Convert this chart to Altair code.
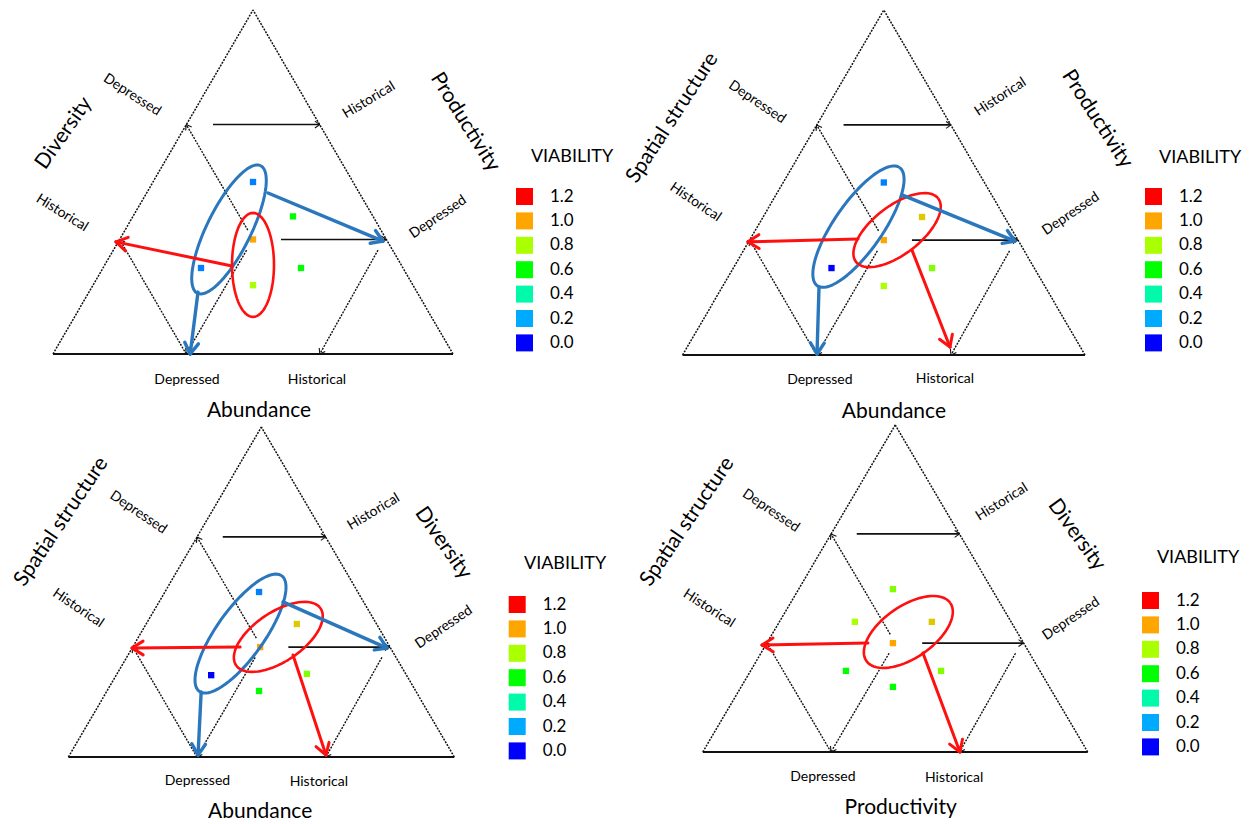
import math
import altair as alt
import pandas as pd

# ---------------- data ----------------
VIAB_LEVELS = [1.2, 1.0, 0.8, 0.6, 0.4, 0.2, 0.0]
VIAB_COLORS = ["#FF0000", "#FFA500", "#AAFF00", "#00FF00", "#00FAAA", "#00AAFF", "#0000FF"]
LEGEND_TITLE = "VIABILITY"

AXIS_TITLES = {
    1: ("Diversity", "Productivity", "Abundance"),
    2: ("Spatial structure", "Productivity", "Abundance"),
    3: ("Spatial structure", "Diversity", "Abundance"),
    4: ("Spatial structure", "Diversity", "Productivity"),
}
LEVEL_NAMES = ["Depressed", "Historical"]

# scenario points (diagram coords: x 0..1 along base, y 0..1 up to apex)
PT_PANEL = [1] * 6 + [2] * 6 + [3] * 6 + [4] * 7
PT_X = [0.50, 0.60, 0.50, 0.37, 0.62, 0.50,
        0.50, 0.595, 0.50, 0.37, 0.62, 0.50,
        0.494, 0.592, 0.497, 0.37, 0.618, 0.494,
        0.494, 0.395, 0.595, 0.494, 0.372, 0.619, 0.494]
PT_Y = [0.50, 0.40, 0.333, 0.25, 0.25, 0.20,
        0.50, 0.40, 0.333, 0.252, 0.252, 0.20,
        0.50, 0.403, 0.333, 0.248, 0.252, 0.20,
        0.498, 0.398, 0.398, 0.333, 0.248, 0.248, 0.199]
PT_VIAB = [0.15, 0.6, 1.0, 0.15, 0.6, 0.8,
           0.15, 0.92, 1.0, 0.0, 0.75, 0.8,
           0.15, 0.92, 1.0, 0.0, 0.75, 0.6,
           0.75, 0.8, 0.92, 1.0, 0.6, 0.75, 0.6]

# ellipses (centre, semi-axes as fraction of triangle side, tilt in degrees)
ELL_PANEL = [1, 1, 2, 2, 3, 3, 4]
ELL_GROUP = ["blue", "red", "blue", "red", "blue", "red", "red"]
ELL_CX = [0.44, 0.50, 0.437, 0.533, 0.446, 0.544, 0.534]
ELL_CY = [0.362, 0.259, 0.372, 0.362, 0.374, 0.364, 0.367]
ELL_A = [0.178, 0.130, 0.179, 0.129, 0.184, 0.132, 0.1325]
ELL_B = [0.055, 0.0525, 0.060, 0.060, 0.062, 0.064, 0.0675]
ELL_ANGLE = [63.6, 90, 55.2, 37.6, 54.6, 33.9, 34.6]

# thick arrows (start -> tip)
ARR_PANEL = [1, 1, 1, 2, 2, 2, 2, 3, 3, 3, 3, 4, 4]
ARR_GROUP = ["blue", "blue", "red", "blue", "blue", "red", "red",
             "blue", "blue", "red", "red", "red", "red"]
ARR_X1 = [0.5375, 0.3625, 0.4475, 0.545, 0.339, 0.436, 0.570, 0.556, 0.344, 0.445, 0.582, 0.429, 0.572]
ARR_Y1 = [0.468, 0.180, 0.256, 0.464, 0.197, 0.336, 0.304, 0.470, 0.197, 0.333, 0.309, 0.333, 0.303]
ARR_X2 = [0.825, 0.343, 0.1575, 0.826, 0.334, 0.1625, 0.6645, 0.826, 0.336, 0.165, 0.6675, 0.154, 0.668]
ARR_Y2 = [0.328, 0.0, 0.326, 0.330, 0.003, 0.328, 0.023, 0.330, 0.006, 0.330, 0.006, 0.327, 0.0]

# reference (level) arrows inside every triangle (start -> tip on the side)
REF_X1 = [0.40, 0.57, 0.487, 0.333, 0.484, 0.8125]
REF_Y1 = [0.667, 0.333, 0.36, 0.0, 0.302, 0.302]
REF_X2 = [0.667, 0.833, 0.333, 0.1667, 0.333, 0.667]
REF_Y2 = [0.667, 0.333, 0.667, 0.333, 0.0, 0.0]
REF_SOLID = [True, True, False, False, False, False]

# ---------------- layout ----------------
PANEL_W = [612, 622, 612, 622]
PANEL_H = [412, 412, 396, 396]
TRI_LEFT = [45, 62.6, 60.4, 82.8]
TRI_BASE = [346, 347, 337, 332]
TRI_W = [400, 402.4, 385.9, 384.9]
TRI_H = [344, 345, 330, 327]
LEG_X = [508, 525, 500.7, 522]
LEG_Y = [180, 180, 176, 172]
LEG_TITLE_POS = [(1.2975, 0.5727), (1.286, 0.571), (1.287, 0.585), (1.2866, 0.593)]

# label slots: (x, y, angle) for left title, left Depressed, left Historical,
# right Historical, right title, right Depressed, base Depressed, base Historical, base title
LBL_POS = {
    1: [(0.0275, 0.642, -55), (0.1975, 0.753, 33), (0.0225, 0.41, 32), (0.79, 0.738, -31),
        (1.03, 0.674, 58), (0.9625, 0.398, -34), (0.335, -0.0756, 0), (0.66, -0.0756, 0), (0.515, -0.166, 0)],
    2: [(-0.025, 0.687, -57), (0.185, 0.733, 34), (0.032, 0.443, 34), (0.79, 0.748, -33),
        (1.03, 0.684, 57), (0.965, 0.409, -34), (0.341, -0.072, 0), (0.652, -0.07, 0), (0.525, -0.165, 0)],
    3: [(-0.018, 0.713, -56), (0.181, 0.741, 34), (0.025, 0.451, 34), (0.791, 0.743, -31),
        (0.971, 0.648, 55), (0.973, 0.393, -34), (0.3345, -0.073, 0), (0.649, -0.075, 0), (0.497, -0.166, 0)],
    4: [(-0.04, 0.704, -56), (0.177, 0.738, 34), (0.016, 0.439, 33), (0.777, 0.764, -32),
        (0.971, 0.664, 54), (0.957, 0.407, -34), (0.312, -0.077, 0), (0.653, -0.08, 0), (0.514, -0.172, 0)],
}

GROUP_COLOR = {"blue": "#2A77BD", "red": "#FF1010"}
GROUP_WIDTH = {"blue": 3.0, "red": 2.6}
LINE_COLOR = "#111111"
FONT = "Lato"


def wing_points(i, x1, y1, x2, y2, length_px, ang_deg):
    W, H = TRI_W[i], TRI_H[i]
    dx, dy = (x2 - x1) * W, (y2 - y1) * H
    n = math.hypot(dx, dy)
    ux, uy = dx / n, dy / n
    pts = []
    for s in (1, -1):
        a = math.radians(ang_deg) * s
        rx = ux * math.cos(a) - uy * math.sin(a)
        ry = ux * math.sin(a) + uy * math.cos(a)
        pts.append((x2 - rx * length_px / W, y2 - ry * length_px / H))
    return pts


def panel(p):
    i = p - 1
    W, H = TRI_W[i], TRI_H[i]
    left, base = TRI_LEFT[i], TRI_BASE[i]
    pw, ph = PANEL_W[i], PANEL_H[i]
    xs = alt.Scale(domain=[-left / W, (pw - left) / W], nice=False, zero=False)
    ys = alt.Scale(domain=[(base - ph) / H, base / H], nice=False, zero=False)
    X = lambda f: alt.X(f, scale=xs, axis=None)
    Y = lambda f: alt.Y(f, scale=ys, axis=None)

    solid, dashed, thick = [], [], []
    # triangle frame
    solid.append(dict(x=0, y=0, x2=1, y2=0, sw=2.2))
    dashed.append(dict(x=0, y=0, x2=0.5, y2=1, sw=1.5))
    dashed.append(dict(x=1, y=0, x2=0.5, y2=1, sw=1.5))
    # level reference arrows
    for x1, y1, x2, y2, so in zip(REF_X1, REF_Y1, REF_X2, REF_Y2, REF_SOLID):
        (solid if so else dashed).append(dict(x=x1, y=y1, x2=x2, y2=y2, sw=1.6 if so else 1.4))
        for wx, wy in wing_points(i, x1, y1, x2, y2, 6, 35):
            solid.append(dict(x=x2, y=y2, x2=wx, y2=wy, sw=1.1))
    # thick coloured arrows
    for pp, g, x1, y1, x2, y2 in zip(ARR_PANEL, ARR_GROUP, ARR_X1, ARR_Y1, ARR_X2, ARR_Y2):
        if pp != p:
            continue
        c, w = GROUP_COLOR[g], GROUP_WIDTH[g] + 0.4
        thick.append(dict(x=x1, y=y1, x2=x2, y2=y2, col=c, sw=w))
        for wx, wy in wing_points(i, x1, y1, x2, y2, 13, 32):
            thick.append(dict(x=x2, y=y2, x2=wx, y2=wy, col=c, sw=w))

    # ellipses
    ell = []
    for k, (pp, g, cx, cy, a, b, th) in enumerate(zip(ELL_PANEL, ELL_GROUP, ELL_CX, ELL_CY,
                                                      ELL_A, ELL_B, ELL_ANGLE)):
        if pp != p:
            continue
        t0 = math.radians(th)
        for j in range(73):
            t = math.radians(j * 5)
            dxp = a * W * math.cos(t) * math.cos(t0) - b * W * math.sin(t) * math.sin(t0)
            dyp = a * W * math.cos(t) * math.sin(t0) + b * W * math.sin(t) * math.cos(t0)
            ell.append(dict(id=k, k=j, x=cx + dxp / W, y=cy + dyp / H,
                            col=GROUP_COLOR[g], sw=GROUP_WIDTH[g]))

    pts = pd.DataFrame([dict(x=x, y=y, v=v) for pp, x, y, v in zip(PT_PANEL, PT_X, PT_Y, PT_VIAB) if pp == p])

    # labels
    lt, rt, bt = AXIS_TITLES[p]
    texts = [lt, LEVEL_NAMES[0], LEVEL_NAMES[1], LEVEL_NAMES[1], rt, LEVEL_NAMES[0],
             LEVEL_NAMES[0], LEVEL_NAMES[1], bt]
    big = [True, False, False, False, True, False, False, False, True]
    rows = [dict(t=t, x=pos[0], y=pos[1], ang=pos[2] % 360, fs=21 if bg else 14)
            for t, pos, bg in zip(texts, LBL_POS[p], big)]
    rows.append(dict(t=LEGEND_TITLE, x=LEG_TITLE_POS[i][0], y=LEG_TITLE_POS[i][1], ang=0, fs=18))
    lbl = pd.DataFrame(rows)

    base_enc = dict(x=X("x:Q"), y=Y("y:Q"), x2=alt.X2("x2:Q"), y2=alt.Y2("y2:Q"),
                    strokeWidth=alt.StrokeWidth("sw:Q", scale=None))

    l_solid = alt.Chart(pd.DataFrame(solid)).mark_rule(color=LINE_COLOR).encode(**base_enc)
    l_dash = alt.Chart(pd.DataFrame(dashed)).mark_rule(color=LINE_COLOR, strokeDash=[2, 1.2]).encode(**base_enc)
    l_pts = alt.Chart(pts).mark_square(size=40, opacity=1).encode(
        x=X("x:Q"), y=Y("y:Q"),
        color=alt.Color(
            "v:Q",
            scale=alt.Scale(domain=VIAB_LEVELS[::-1], range=VIAB_COLORS[::-1], interpolate="rgb"),
            legend=alt.Legend(
                type="symbol", values=VIAB_LEVELS, format=".1f", title=None,
                orient="none", legendX=LEG_X[i], legendY=LEG_Y[i], direction="vertical",
                symbolType="square", symbolSize=289, symbolStrokeWidth=0, symbolOpacity=1,
                labelFont=FONT, labelFontSize=17, labelColor="black", labelOffset=17,
                rowPadding=6.4,
            ),
        ),
    )
    l_ell = alt.Chart(pd.DataFrame(ell)).mark_line(strokeJoin="round").encode(
        x=X("x:Q"), y=Y("y:Q"), order="k:Q", detail="id:N",
        stroke=alt.Stroke("col:N", scale=None), strokeWidth=alt.StrokeWidth("sw:Q", scale=None))
    l_arr = alt.Chart(pd.DataFrame(thick)).mark_rule(strokeCap="round").encode(
        stroke=alt.Stroke("col:N", scale=None), **base_enc)
    l_txt = alt.Chart(lbl).mark_text(font=FONT, align="center", baseline="middle", color="black").encode(
        x=X("x:Q"), y=Y("y:Q"), text="t:N",
        angle=alt.Angle("ang:Q", scale=None), size=alt.Size("fs:Q", scale=None))

    return alt.layer(l_solid, l_dash, l_pts, l_ell, l_arr, l_txt).properties(width=pw, height=ph)


chart = alt.concat(*[panel(p) for p in (1, 2, 3, 4)], columns=2, spacing=0, bounds="flush").resolve_scale(
    x="independent", y="independent", color="independent"
).resolve_legend(color="independent").properties(padding=0).configure_view(stroke=None)

chart.save("out.html", embed_options={"renderer": "svg", "actions": False})
